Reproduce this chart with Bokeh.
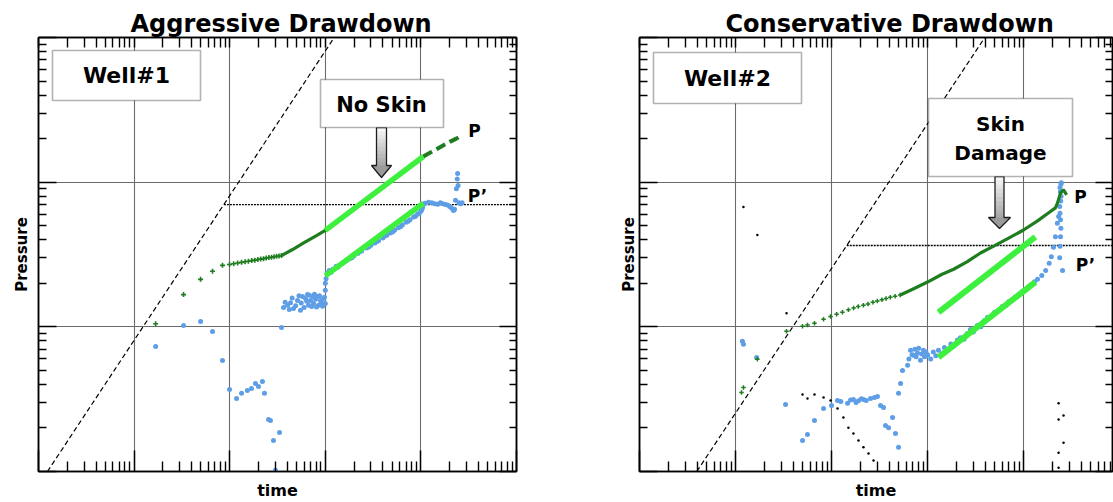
import numpy as np
from bokeh.plotting import figure
from bokeh.layouts import row
from bokeh.models import LogAxis, FixedTicker, BoxAnnotation, Label
from bokeh.embed import file_html
from bokeh.resources import INLINE

FONT = "DejaVu Sans"
DARK_GREEN = "#1e7d1e"
LIME = "#3ef03e"
BLUE = "#5e9ee6"
GRID = "#6b6b6b"

# ---------------- Well #1 (aggressive drawdown) ----------------
# pressure change, early sparse samples
w1_t_early = [0.0168, 0.0329, 0.0496, 0.0661, 0.0841, 0.0996, 0.110, 0.121, 0.133, 0.145, 0.157,
              0.170, 0.183, 0.197, 0.211, 0.226, 0.241, 0.257, 0.274, 0.291, 0.309, 0.328, 0.348]
w1_p_early = [10.5, 16.7, 21.3, 24.2, 26.6, 27.0, 27.3, 27.6, 27.9, 28.2, 28.4,
              28.7, 28.9, 29.2, 29.4, 29.6, 29.9, 30.1, 30.3, 30.5, 30.7, 30.9, 31.1]
# pressure change, dense samples
w1_t_dense = [0.348, 0.45, 0.60, 0.80, 1.0, 1.5, 2.5, 4.0, 6.0, 8.0, 10.6]
w1_p_dense = [31.1, 34.1, 38.2, 42.6, 46.4, 56.8, 73.4, 92.8, 113.6, 131.2, 150.6]
# pressure change, late sparse samples
w1_t_tail = [10.6, 13.0, 16.0, 20.0, 23.5, 26.6]
w1_p_tail = [150.6, 162.0, 175.0, 190.0, 200.0, 210.0]

# pressure derivative
w1_t_deriv = [0.0168, 0.0329, 0.0496, 0.0661, 0.0841, 0.0996, 0.118, 0.133, 0.153, 0.169, 0.186,
              0.200, 0.220, 0.231, 0.255, 0.267, 0.287, 0.301, 0.332, 0.348,
              0.366, 0.38, 0.403, 0.42, 0.433, 0.45, 0.465, 0.49, 0.512, 0.53, 0.550, 0.56, 0.578,
              0.60, 0.621, 0.64, 0.652, 0.668, 0.68, 0.700, 0.72, 0.735, 0.753, 0.77, 0.791, 0.81,
              0.829, 0.849, 0.87, 0.891, 0.91, 0.935, 0.958, 0.98, 1.0,
              1.0, 1.0, 1.02,
              1.05, 1.1, 1.15, 1.2, 1.3, 1.35, 1.4, 1.5, 1.55, 1.65, 1.8, 1.9, 2.0, 2.2, 2.3, 2.4,
              2.7, 2.85, 3.0, 3.3, 3.45, 3.6, 4.0, 4.2, 4.4, 4.8, 5.05, 5.3, 5.8, 6.1, 6.4, 7.0,
              7.35, 7.7, 8.4, 8.8, 9.2, 9.6, 10.0, 10.2, 10.4, 10.6,
              11.0, 12.0, 13.0, 14.0, 15.0, 16.0, 17.0, 18.0, 19.0, 20.0, 21.0, 21.9, 22.5, 23.0,
              23.5, 24.0, 24.2, 24.5, 25.0, 26.0, 27.0]
w1_p_deriv = [7.32, 10.2, 10.9, 9.29, 5.86, 3.69, 3.20, 3.47, 3.63, 3.75, 4.06,
              3.87, 4.19, 3.47, 2.29, 2.25, 1.64, 1.02, 1.86, 9.9,
              13.6, 14.8, 14.1, 13.2, 14.7, 15.8, 13.4, 14.0, 15.2, 16.4, 13.0, 14.6, 16.2,
              13.6, 15.7, 15.0, 16.7, 14.1, 16.5, 15.2, 13.8, 16.2, 14.5, 16.8, 15.5, 13.7,
              16.2, 14.1, 16.4, 15.2, 14.8, 13.9, 15.7, 16.0, 14.5,
              17.9, 20.0, 21.5,
              23.5, 24.5, 23.8, 25.0, 26.2, 25.8, 26.6, 27.4, 27.9, 28.5, 29.6, 30.0, 31.0, 32.2, 33.2, 33.4,
              35.0, 35.6, 36.6, 38.0, 38.9, 39.4, 41.2, 42.5, 43.0, 44.6, 45.3, 46.6, 48.5, 49.2, 50.6, 52.8,
              53.6, 55.0, 57.5, 58.2, 60.0, 61.0, 63.0, 64.5, 66.5, 70.0,
              71.5, 72.5, 72.0, 71.0, 70.5, 72.0, 71.0, 70.0, 69.5, 68.0, 66.0, 63.7, 65.0, 75.0,
              90.0, 105.0, 115.0, 95.0, 72.0, 71.0, 72.0]

# straight-line fits (half slope) and flow-regime guides
w1_t_fit = [1.0, 10.6]
w1_p_fit = [46.4, 150.6]
w1_d_fit = [22.5, 71.5]
w1_t_wbs = [0.00124, 1.24]
w1_p_wbs = [1.0, 1000.0]
w1_t_rad = [0.087, 100.0]
w1_p_rad = [70.0, 70.0]

# ---------------- Well #2 (conservative drawdown) ----------------
w2_t_early = [0.01155, 0.0121, 0.0169, 0.034, 0.0499, 0.0562, 0.0665, 0.0826, 0.0977, 0.113, 0.130,
              0.150, 0.170, 0.190, 0.215, 0.240, 0.270, 0.300, 0.335, 0.370, 0.410, 0.460, 0.520]
w2_p_early = [3.52, 3.81, 5.96, 9.33, 10.1, 10.3, 10.6, 11.3, 11.8, 12.2, 12.6,
              13.1, 13.5, 13.8, 14.1, 14.4, 14.8, 15.1, 15.4, 15.7, 16.0, 16.3, 16.6]
w2_t_dense = [0.52, 0.70, 1.0, 1.4, 1.87, 2.6, 3.56, 5.0, 7.0, 10.0, 14.0, 18.0, 21.5,
              22.6, 24.3, 26.1, 28.1]
w2_p_dense = [16.6, 18.2, 20.4, 23.0, 25.0, 28.2, 32.4, 36.4, 41.0, 46.7, 54.0, 61.0, 66.4,
              71.9, 84.3, 88.5, 81.6]

w2_t_deriv = [0.0118, 0.0121, 0.0166, 0.0332, 0.0499, 0.0562, 0.0665, 0.0826, 0.100, 0.1155,
              0.125, 0.147, 0.158, 0.169, 0.18, 0.191, 0.205, 0.215, 0.23, 0.255, 0.28, 0.301,
              0.324, 0.348, 0.365, 0.393, 0.432, 0.464, 0.499, 0.499, 0.524, 0.549, 0.620,
              0.64, 0.666, 0.69, 0.715, 0.74, 0.76, 0.787, 0.81, 0.845, 0.87, 0.908, 0.93, 0.96, 1.0,
              1.0, 1.08, 1.15, 1.22, 1.3, 1.4, 1.5, 1.6, 1.75, 1.9, 2.05, 2.2, 2.4, 2.6, 2.8, 3.0,
              3.3, 3.6, 3.9, 4.2, 4.6, 5.0, 5.5, 6.0, 6.5, 7.0, 7.6, 8.2, 8.9, 9.6, 10.4, 11.2,
              12.0, 13.0, 14.0, 15.5, 17.0, 18.5, 19.5, 20.5, 21.5, 22.5, 23.2,
              25.5, 23.8, 24.0, 24.3, 24.5, 24.3, 24.0, 23.8, 24.4, 24.6, 24.2, 24.0, 24.5, 24.8]
w2_p_deriv = [7.94, 7.57, 6.15, 2.91, 1.64, 1.80, 2.25, 2.73, 2.86, 3.10,
              3.05, 2.96, 3.12, 3.15, 3.00, 3.08, 3.18, 3.15, 3.10, 3.20, 3.25, 3.30,
              2.86, 2.77, 2.08, 2.01, 2.36, 1.83, 1.47, 3.47, 4.06, 5.00, 5.42,
              6.0, 6.88, 6.4, 6.36, 7.0, 6.2, 6.6, 7.1, 5.87, 6.5, 6.9, 6.2, 6.7, 6.36,
              6.4, 6.0, 6.7, 6.3, 6.9, 6.5, 7.2, 6.9, 7.6, 7.4, 8.1, 8.4, 8.2, 9.0, 9.6, 9.2,
              10.2, 10.0, 11.0, 11.6, 11.8, 12.6, 13.0, 13.8, 14.0, 14.9, 15.2, 16.1, 16.6, 17.4, 18.0, 18.9,
              19.6, 20.5, 21.3, 22.6, 24.5, 27.5, 30.5, 35.5, 42.0, 52.0, 58.0,
              24.5, 30.0, 36.0, 42.0, 48.0, 55.0, 61.0, 68.0, 74.0, 80.0, 86.0, 92.0, 97.0, 99.0]

# negative-derivative samples
w2_t_neg = [0.0121, 0.0169, 0.034, 0.0499, 0.0562, 0.0665, 0.0826, 0.0977, 0.1155, 0.133, 0.150,
            0.169, 0.191, 0.215, 0.243, 0.274, 23.2, 26.1, 23.2, 26.1, 23.2, 23.2]
w2_p_neg = [67.4, 43.1, 12.4, 3.41, 3.20, 3.41, 3.25, 3.10, 2.73, 2.36, 2.01,
            1.83, 1.64, 1.47, 1.33, 1.19, 2.96, 2.44, 2.29, 1.58, 1.35, 1.06]

w2_t_fit = [1.30, 13.3]
w2_p_fit = [12.6, 41.8]
w2_d_fit = [6.15, 20.4]
w2_t_wbs = [0.00395, 3.95]
w2_p_wbs = [1.0, 1000.0]
w2_t_rad = [0.144, 84.5]
w2_p_rad = [36.5, 36.5]

# ---------------- axes helpers ----------------
X_MAJOR = [1e-3, 1e-2, 1e-1, 1.0, 10.0, 100.0]
X_MINOR = [m * 10.0 ** k for k in range(-3, 2) for m in range(2, 10)]
Y_MAJOR = [1.0, 10.0, 100.0, 1000.0]
Y_MINOR = [m * 10.0 ** k for k in range(0, 3) for m in range(2, 10)]
BLANK = {k: "" for k in ["0.001", "0.01", "0.1", "1", "10", "100", "1000"]}

GEOM1 = {"x": (1e-3, 100.0), "y": (1.0, 1000.0), "w": 478, "h": 434}
GEOM2 = {"x": (1e-3, 84.5), "y": (1.0, 1000.0), "w": 473, "h": 434}


def frame_to_data(geom, dx, dy):
    """Pixel offsets from the frame's top-left corner -> data coordinates."""
    lx0, lx1 = np.log10(geom["x"])
    ly0, ly1 = np.log10(geom["y"])
    dx = np.asarray(dx, float)
    dy = np.asarray(dy, float)
    x = 10 ** (lx0 + dx / geom["w"] * (lx1 - lx0))
    y = 10 ** (ly1 - dy / geom["h"] * (ly1 - ly0))
    return x, y


def style_axis(ax, ticker, major, minor, label=None, standoff=0, label_size="16px"):
    ax.ticker = ticker
    ax.major_label_overrides = BLANK
    ax.major_label_text_font_size = "1px"
    ax.major_label_text_color = None
    ax.major_label_standoff = 0
    ax.major_tick_in = major
    ax.major_tick_out = 0
    ax.minor_tick_in = minor
    ax.minor_tick_out = 0
    ax.major_tick_line_color = "black"
    ax.major_tick_line_width = 1.5
    ax.minor_tick_line_color = "black"
    ax.minor_tick_line_width = 1.4
    ax.axis_line_color = "black"
    ax.axis_line_width = 1.5
    if label:
        ax.axis_label = label
        ax.axis_label_standoff = standoff
        ax.axis_label_text_font = FONT
        ax.axis_label_text_font_style = "bold"
        ax.axis_label_text_font_size = label_size
        ax.axis_label_text_color = "black"


def make_panel(title, geom, width, border_left, border_right, title_offset, ylabel_standoff):
    p = figure(width=width, height=502, x_axis_type="log", y_axis_type="log",
               x_range=geom["x"], y_range=geom["y"], title=title,
               output_backend="svg", toolbar_location=None,
               min_border_left=border_left, min_border_right=border_right,
               min_border_top=37, min_border_bottom=31)
    p.background_fill_color = "white"
    p.border_fill_color = "white"
    p.outline_line_color = "black"
    p.outline_line_width = 1.5

    p.title.text_font = FONT
    p.title.text_font_style = "bold"
    p.title.text_font_size = "24px"
    p.title.text_color = "black"
    p.title.align = "left"
    p.title.offset = title_offset
    p.title.standoff = 0

    bottom = p.below[0]
    left = p.left[0]
    top = LogAxis()
    right = LogAxis()
    p.add_layout(top, "above")
    p.add_layout(right, "right")

    xt = FixedTicker(ticks=X_MAJOR, minor_ticks=X_MINOR)
    yt = FixedTicker(ticks=Y_MAJOR, minor_ticks=Y_MINOR)
    style_axis(bottom, xt, 21, 10, "time", 9, "16px")
    style_axis(top, xt, 10, 10)
    style_axis(left, yt, 18, 8, "Pressure", ylabel_standoff, "15px")
    style_axis(right, yt, 17, 7)

    p.xgrid.ticker = xt
    p.ygrid.ticker = yt
    for g in (p.xgrid, p.ygrid):
        g.grid_line_color = GRID
        g.grid_line_width = 1.1
    return p


def hex_mix(c0, c1, f):
    a = [int(c0[i:i + 2], 16) for i in (1, 3, 5)]
    b = [int(c1[i:i + 2], 16) for i in (1, 3, 5)]
    return "#" + "".join(f"{round(a[i] + (b[i] - a[i]) * f):02x}" for i in range(3))


def block_arrow(p, geom, cx, top, shaft_w, head_top, head_w, tip):
    n = 10
    edges = np.linspace(top, head_top, n + 1)
    hs = shaft_w / 2
    for i in range(n):
        xs, ys = frame_to_data(geom, [cx - hs, cx + hs, cx + hs, cx - hs],
                               [edges[i], edges[i], edges[i + 1] + 0.5, edges[i + 1] + 0.5])
        p.patch(xs, ys, fill_color=hex_mix("#f6f6f6", "#a8a8a8", i / (n - 1)), line_color=None)
    hh = head_w / 2
    xs, ys = frame_to_data(geom, [cx - hh, cx + hh, cx], [head_top, head_top, tip])
    p.patch(xs, ys, fill_color="#9a9a9a", line_color=None)
    xs, ys = frame_to_data(geom,
                           [cx - hs, cx + hs, cx + hs, cx + hh, cx, cx - hh, cx - hs, cx - hs],
                           [top, top, head_top, head_top, tip, head_top, head_top, top])
    p.patch(xs, ys, fill_alpha=0, line_color="#1c1c1c", line_width=1.3)


def text_box(p, geom, left, right, top, bottom, lines, size="22px"):
    x0, y0 = frame_to_data(geom, left, top)
    x1, y1 = frame_to_data(geom, right, bottom)
    p.add_layout(BoxAnnotation(left=float(x0), right=float(x1), top=float(y0), bottom=float(y1),
                               fill_color="white", fill_alpha=1.0,
                               line_color="black", line_width=1.6))
    for text, cx, cy in lines:
        x, y = frame_to_data(geom, cx, cy)
        p.add_layout(Label(x=float(x), y=float(y), text=text, text_align="center",
                           text_baseline="middle", text_font=FONT, text_font_style="bold",
                           text_font_size=size, text_color="black"))


def curve_label(p, geom, text, cx, cy):
    x, y = frame_to_data(geom, cx, cy)
    p.add_layout(Label(x=float(x), y=float(y), text=text, text_align="center",
                       text_baseline="middle", text_font=FONT, text_font_style="bold",
                       text_font_size="17px", text_color="black"))


# ---------------- left panel ----------------
p1 = make_panel("Aggressive Drawdown", GEOM1, 560, 38, 44, 92, 8)
p1.line(w1_t_wbs, w1_p_wbs, line_color="black", line_width=1.2, line_dash="5 3")
p1.line(w1_t_rad, w1_p_rad, line_color="black", line_width=1.3, line_dash="2 1")
p1.scatter(w1_t_deriv, w1_p_deriv, size=5, fill_color=BLUE, line_color=None)
p1.scatter(w1_t_early, w1_p_early, marker="cross", size=5, line_color=DARK_GREEN, line_width=1.6)
p1.line(w1_t_dense, w1_p_dense, line_color=DARK_GREEN, line_width=3.2)
p1.line(w1_t_tail, w1_p_tail, line_color=DARK_GREEN, line_width=4, line_dash="10 5")
p1.line(w1_t_fit, w1_p_fit, line_color=LIME, line_width=5.5)
p1.line(w1_t_fit, w1_d_fit, line_color=LIME, line_width=5.5)
block_arrow(p1, GEOM1, 343, 90, 10, 128, 20, 140)
text_box(p1, GEOM1, 14, 162, 13, 63, [("Well#1", 88, 38)])
text_box(p1, GEOM1, 282, 405, 42, 90, [("No Skin", 343, 67)], size="21px")
curve_label(p1, GEOM1, "P", 436, 93)
curve_label(p1, GEOM1, "P\u2019", 439, 158)

# ---------------- right panel ----------------
p2 = make_panel("Conservative Drawdown", GEOM2, 553, 79, 1, 86, 2)
p2.line(w2_t_wbs, w2_p_wbs, line_color="black", line_width=1.2, line_dash="5 3")
p2.line(w2_t_rad, w2_p_rad, line_color="black", line_width=1.3, line_dash="2 1")
p2.scatter(w2_t_neg, w2_p_neg, size=2.5, fill_color="black", line_color=None)
p2.scatter(w2_t_deriv, w2_p_deriv, size=5, fill_color=BLUE, line_color=None)
p2.scatter(w2_t_early, w2_p_early, marker="cross", size=4.5, line_color=DARK_GREEN, line_width=1.5)
p2.line(w2_t_dense, w2_p_dense, line_color=DARK_GREEN, line_width=3.2)
p2.line(w2_t_fit, w2_p_fit, line_color=LIME, line_width=6)
p2.line(w2_t_fit, w2_d_fit, line_color=LIME, line_width=6)
block_arrow(p2, GEOM2, 360, 139, 9, 180, 22, 191)
text_box(p2, GEOM2, 14, 162, 15, 66, [("Well#2", 88, 41)])
text_box(p2, GEOM2, 289, 433, 61, 139, [("Skin", 361, 86), ("Damage", 361, 115)], size="20px")
curve_label(p2, GEOM2, "P", 441, 159)
curve_label(p2, GEOM2, "P\u2019", 446, 227)

layout = row(p1, p2)
open("out.html", "w").write(file_html(layout, INLINE))
